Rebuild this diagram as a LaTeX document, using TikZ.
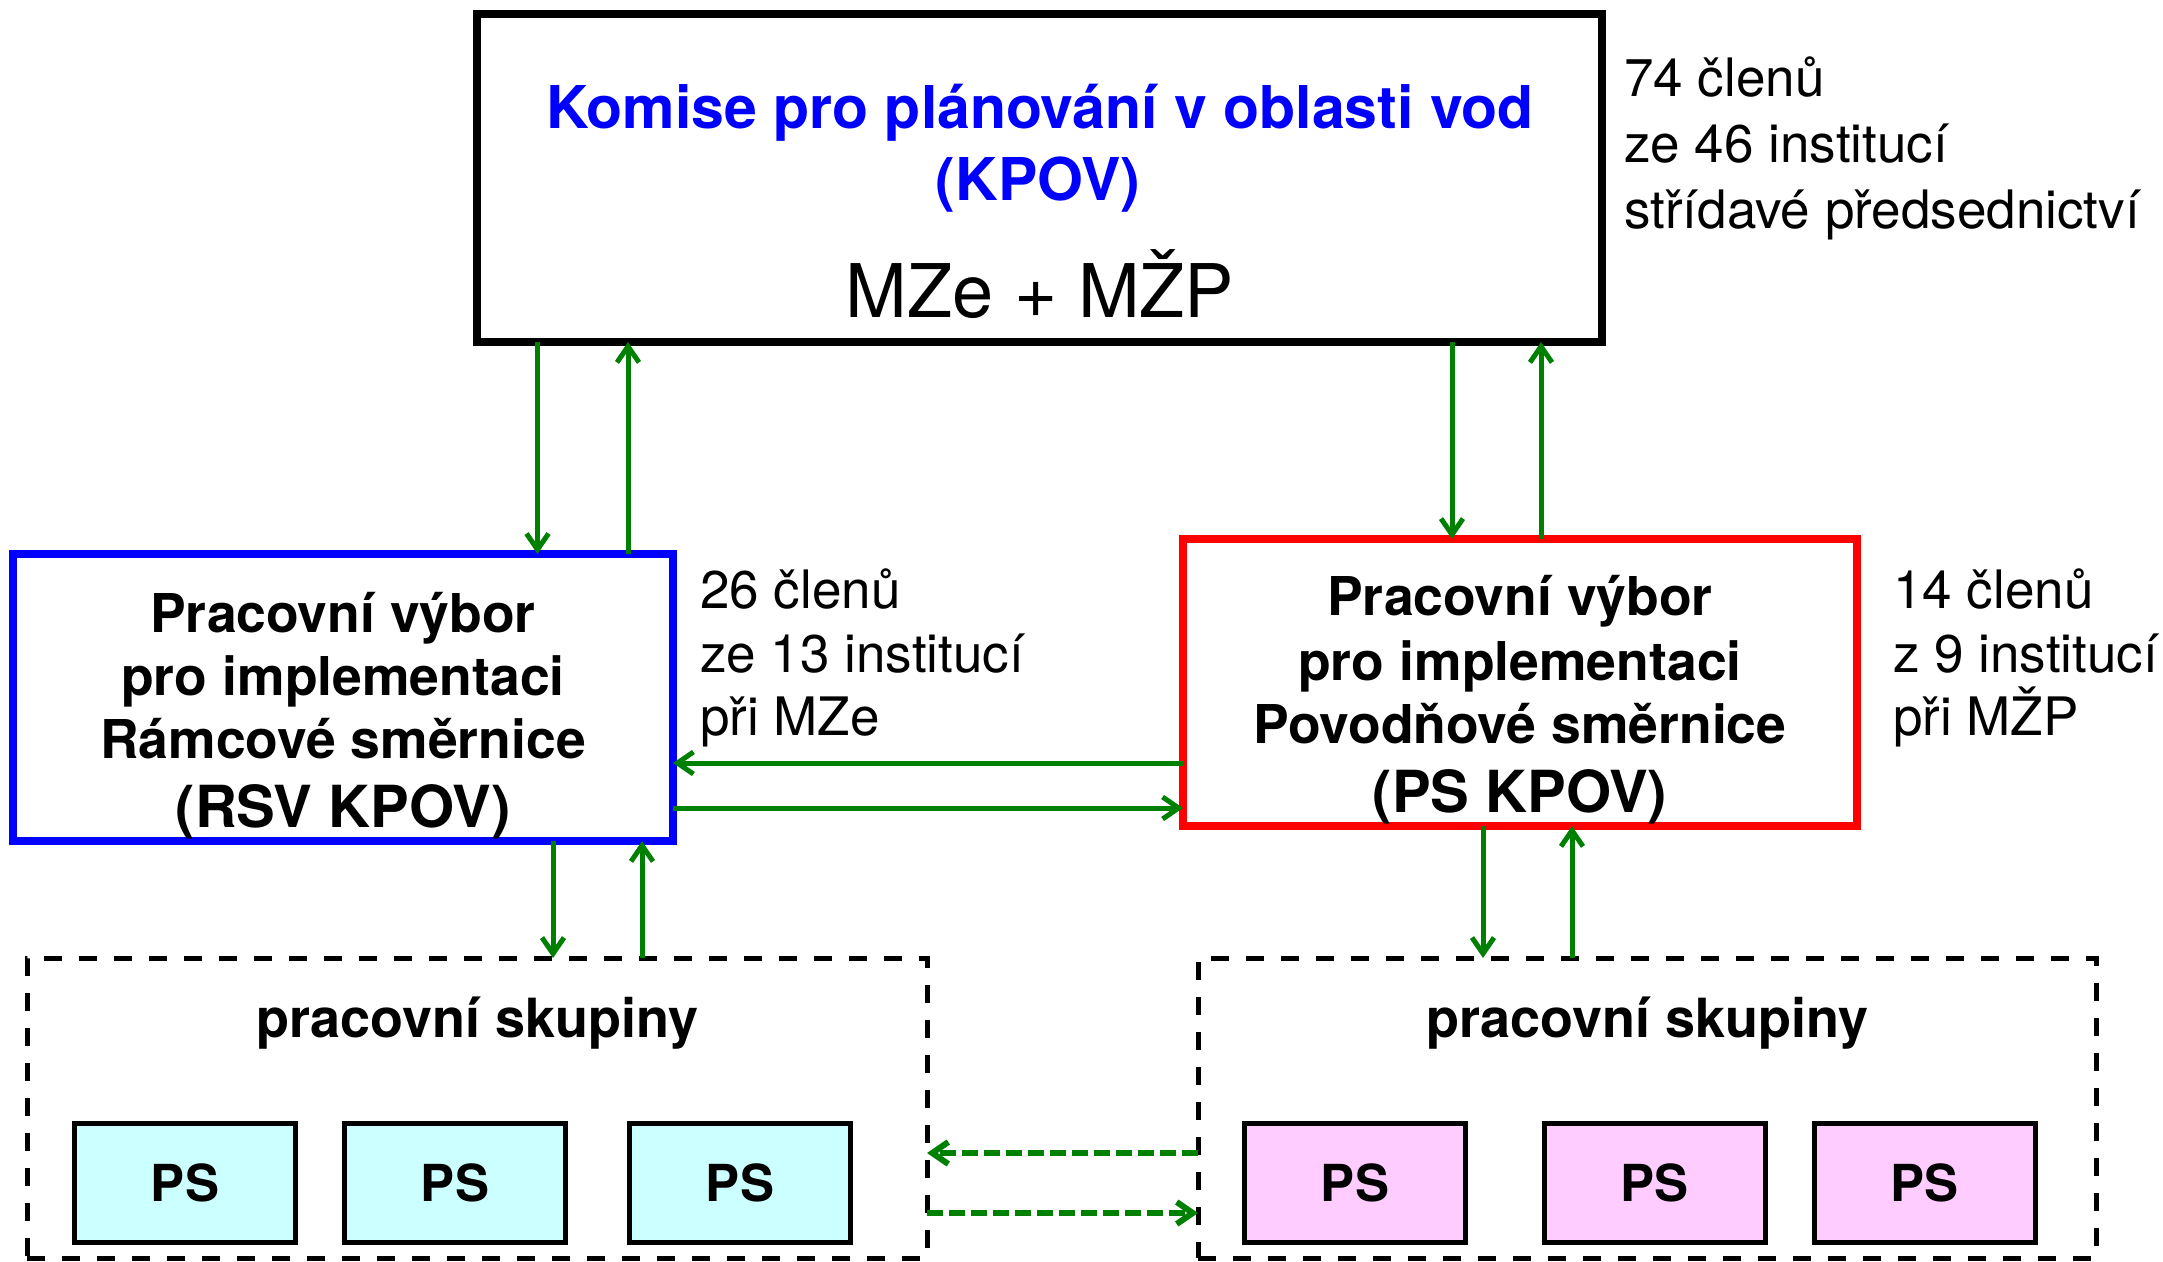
\documentclass[tikz,border=0pt]{standalone}
\usepackage{fontspec}
\setmainfont{TeX Gyre Heros}
\usetikzlibrary{arrows.meta}
\definecolor{arrgreen}{RGB}{0,128,0}
\definecolor{pscyan}{RGB}{204,255,255}
\definecolor{pspink}{RGB}{255,204,255}
\begin{document}
\begin{tikzpicture}[x=1pt,y=-1pt,
  frame/.style={draw, line width=8pt, inner sep=0pt, outer sep=0pt},
  grpbox/.style={draw, line width=5pt, dash pattern=on 18pt off 17pt, inner sep=0pt, outer sep=0pt, minimum height=300pt},
  psbox/.style={draw, line width=5pt, minimum width=221pt, minimum height=119pt, inner sep=0pt, outer sep=0pt, font=\fontsize{51}{51}\selectfont\bfseries},
  lbl/.style={inner sep=0pt, anchor=base},
  boldl/.style={lbl, font=\fontsize{53.5}{63}\selectfont\bfseries},
  bigl/.style={lbl, font=\fontsize{58}{63}\selectfont\bfseries},
  sidel/.style={inner sep=0pt, anchor=base west, font=\fontsize{53}{63}\selectfont},
  flow/.style={draw=arrgreen, line width=5pt, -{Straight Barb[length=16pt,width=22pt]}},
  dflow/.style={flow, line width=6pt, dash pattern=on 16pt off 6pt}]
\useasboundingbox (0,0) rectangle (2163,1261);

% boxes
\node[frame, minimum width=1125pt, minimum height=328pt] (kpov) at (1039.5,178) {};
\node[frame, draw=blue, minimum width=660pt, minimum height=287pt] (rsv) at (343,697.5) {};
\node[frame, draw=red, minimum width=674pt, minimum height=287pt] (pskpov) at (1520,682.5) {};
\node[grpbox, minimum width=900pt] (grpL) at (477,1108) {};
\node[grpbox, minimum width=898pt] (grpR) at (1647,1108) {};

\node[psbox, fill=pscyan] (psL1) at (185,1183) {PS};
\node[psbox, fill=pscyan] (psL2) at (455,1183) {PS};
\node[psbox, fill=pscyan] (psL3) at (740,1183) {PS};
\node[psbox, fill=pspink] (psR1) at (1355,1183) {PS};
\node[psbox, fill=pspink] (psR2) at (1654.5,1183) {PS};
\node[psbox, fill=pspink] (psR3) at (1924.5,1183) {PS};

% texts
\node[lbl, text=blue, font=\fontsize{59}{63}\selectfont\bfseries] (t1) at (1040,128) {Komise pro plánování v oblasti vod};
\node[lbl, text=blue, font=\fontsize{59}{63}\selectfont\bfseries] (t2) at (1038,200) {(KPOV)};
\node[lbl, font=\fontsize{74}{74}\selectfont] (t3) at (1040,317) {MZe + MŽP};

\node[boldl] (b1) at (343,632) {Pracovní výbor};
\node[boldl] (b2) at (343,695) {pro implementaci};
\node[boldl] (b3) at (343,758) {Rámcové směrnice};
\node[bigl] (b4) at (343,827) {(RSV KPOV)};

\node[boldl] (r1) at (1520,615) {Pracovní výbor};
\node[boldl] (r2) at (1520,680) {pro implementaci};
\node[boldl] (r3) at (1520,743) {Povodňové směrnice};
\node[bigl] (r4) at (1520,812) {(PS KPOV)};

\node[boldl, font=\fontsize{54}{63}\selectfont\bfseries] (gl) at (477,1037) {pracovní skupiny};
\node[boldl, font=\fontsize{54}{63}\selectfont\bfseries] (gr) at (1647,1037) {pracovní skupiny};

\node[sidel] (s1) at (1624,96) {74 členů};
\node[sidel] (s2) at (1624,162) {ze 46 institucí};
\node[sidel] (s3) at (1624,228) {střídavé předsednictví};
\node[sidel] (m1) at (700,608) {26 členů};
\node[sidel] (m2) at (700,672) {ze 13 institucí};
\node[sidel] (m3) at (700,735) {při MZe};
\node[sidel] (n1) at (1893,608) {14 členů};
\node[sidel] (n2) at (1893,672) {z 9 institucí};
\node[sidel] (n3) at (1893,735) {při MŽP};

% connectors
\draw[flow] ([xshift=-502pt]kpov.south) -- ([xshift=194.5pt]rsv.north);
\draw[flow] ([xshift=285pt]rsv.north) -- ([xshift=-411.5pt]kpov.south);
\draw[flow] ([xshift=412.5pt]kpov.south) -- ([xshift=-68pt]pskpov.north);
\draw[flow] ([xshift=21pt]pskpov.north) -- ([xshift=501.5pt]kpov.south);

\draw[flow] ([yshift=-80.5pt]pskpov.west) -- ([yshift=-65.5pt]rsv.east);
\draw[flow] ([yshift=-110.5pt]rsv.east) -- ([yshift=-125.5pt]pskpov.west);

\draw[flow] ([xshift=210pt]rsv.south) -- ([xshift=76pt]grpL.north);
\draw[flow] ([xshift=165pt]grpL.north) -- ([xshift=299pt]rsv.south);
\draw[flow] ([xshift=-37pt]pskpov.south) -- ([xshift=-164pt]grpR.north);
\draw[flow] ([xshift=-75pt]grpR.north) -- ([xshift=52pt]pskpov.south);

\draw[dflow] ([yshift=-45pt]grpR.west) -- ([yshift=-45pt]grpL.east);
\draw[dflow] ([yshift=-105pt]grpL.east) -- ([yshift=-105pt]grpR.west);
\end{tikzpicture}
\end{document}
